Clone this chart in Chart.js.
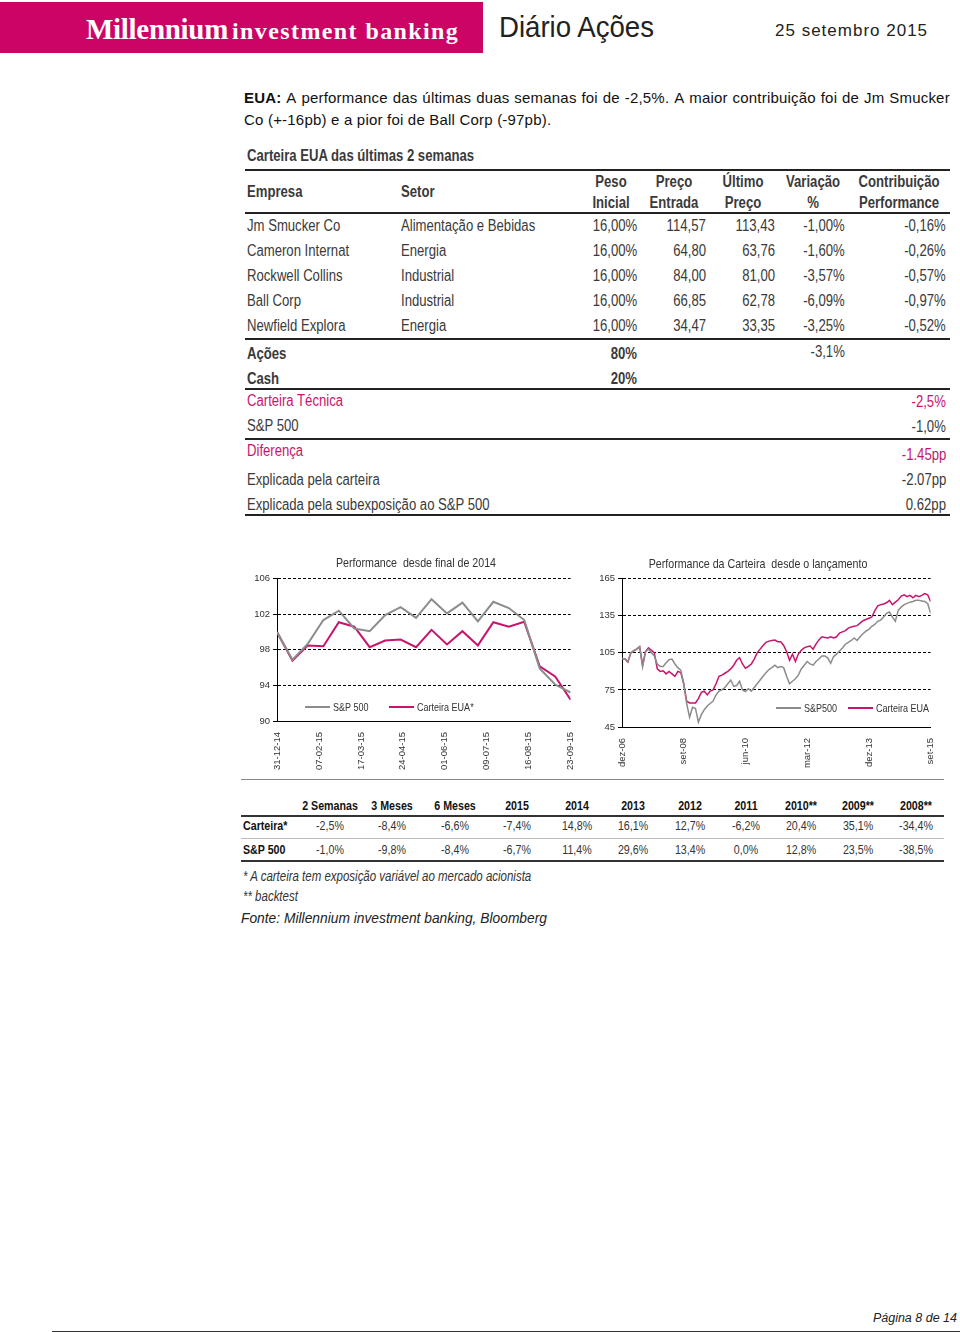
<!DOCTYPE html>
<html>
<head>
<meta charset="utf-8">
<script src="https://cdn.jsdelivr.net/npm/chart.js@4.4.1/dist/chart.umd.min.js"></script>
<style>
  body { margin: 0; background: #fff; overflow: hidden; }
  #page { position: relative; width: 960px; height: 1333px; font-family: "Liberation Sans", Arial, sans-serif; color: #222; }
  .t { position: absolute; white-space: nowrap; line-height: 18px; }
  .nar span { display: inline-block; transform: scaleX(0.82); }
  .b { font-weight: bold; color: #111; }
  .row { font-size: 16px; color: #3a3a3a; }
  .ttl { font-size: 13px; color: #333; }
  .mag { color: #c7156c; }
  .rule { position: absolute; }
  .chartbox { position: absolute; }
  .para { position: absolute; left: 244px; width: 706px; font-size: 15px; line-height: 22px; color: #111; letter-spacing: 0.2px; white-space: nowrap; }
  .legend { position: absolute; font-size: 11px; color: #333; display: flex; align-items: center; white-space: nowrap; }
  .legend i { display: inline-block; width: 25px; height: 2px; margin-right: 3px; }
  .legend span { display: inline-block; transform: scaleX(0.82); transform-origin: left; }
</style>
</head>
<body>
<div id="page">
  <div style="position:absolute;left:0;top:2px;width:483px;height:51px;background:#cc0466;"></div>
  <div class="t" style="left:86px;top:13px;line-height:32px;color:#fff;font-family:'Liberation Serif',serif;font-weight:bold;">
    <span style="font-size:29px;letter-spacing:-0.3px;">Millennium</span>
    <span style="font-size:24px;letter-spacing:1.4px;">investment banking</span>
  </div>
  <div class="t" style="left:499px;top:10px;line-height:34px;font-size:30px;color:#222;">
    <span style="display:inline-block;transform:scaleX(0.92);transform-origin:left;">Diário Ações</span>
  </div>
  <div class="t" style="left:775px;top:21px;line-height:20px;font-size:17px;letter-spacing:1px;color:#222;">25 setembro 2015</div>

  <div class="para" style="top:87px;display:flex;justify-content:space-between;">
    <b>EUA:</b><span>A</span><span>performance</span><span>das</span><span>últimas</span><span>duas</span><span>semanas</span><span>foi</span><span>de</span><span>-2,5%.</span><span>A</span><span>maior</span><span>contribuição</span><span>foi</span><span>de</span><span>Jm</span><span>Smucker</span>
  </div>
  <div class="para" style="top:109px;">Co (+-16pb) e a pior foi de Ball Corp (-97pb).</div>

  <div class="chartbox" style="left:240px;top:570px;width:345px;height:220px;"><canvas id="ytdChart" width="345" height="220"></canvas></div>
  <div class="chartbox" style="left:590px;top:570px;width:355px;height:220px;"><canvas id="launchChart" width="355" height="220"></canvas></div>
</div>

<script>
// --- table: carteira das ultimas 2 semanas ---
const companies = ['Jm Smucker Co', 'Cameron Internat', 'Rockwell Collins', 'Ball Corp', 'Newfield Explora'];
const sectors = ['Alimentação e Bebidas', 'Energia', 'Industrial', 'Industrial', 'Energia'];
const weights = ['16,00%', '16,00%', '16,00%', '16,00%', '16,00%'];
const entryPrices = ['114,57', '64,80', '84,00', '66,85', '34,47'];
const lastPrices = ['113,43', '63,76', '81,00', '62,78', '33,35'];
const priceChanges = ['-1,00%', '-1,60%', '-3,57%', '-6,09%', '-3,25%'];
const contributions = ['-0,16%', '-0,26%', '-0,57%', '-0,97%', '-0,52%'];

// --- table: performance por periodo ---
const periods = ['2 Semanas', '3 Meses', '6 Meses', '2015', '2014', '2013', '2012', '2011', '2010**', '2009**', '2008**'];
const portfolioReturns = ['-2,5%', '-8,4%', '-6,6%', '-7,4%', '14,8%', '16,1%', '12,7%', '-6,2%', '20,4%', '35,1%', '-34,4%'];
const sp500Returns = ['-1,0%', '-9,8%', '-8,4%', '-6,7%', '11,4%', '29,6%', '13,4%', '0,0%', '12,8%', '23,5%', '-38,5%'];

// --- chart 1: performance desde final de 2014 (biweekly, days since 31-12-14) ---
const ytdDays = [0, 14, 28, 42, 56, 70, 84, 98, 112, 126, 140, 154, 168, 182, 196, 210, 224, 238, 252, 266];
const ytdTickLabels = ['31-12-14', '07-02-15', '17-03-15', '24-04-15', '01-06-15', '09-07-15', '16-08-15', '23-09-15'];
const ytdSP500 = [100.0, 96.9, 98.7, 101.35, 102.4, 100.4, 100.1, 101.9, 102.8, 101.6, 103.7, 102.1, 103.3, 101.2, 103.4, 102.7, 101.35, 95.9, 94.1, 93.2];
const ytdPortfolio = [100.0, 96.8, 98.5, 98.4, 101.1, 100.6, 98.3, 99.05, 99.15, 98.3, 100.25, 98.6, 100.1, 98.5, 101.1, 100.6, 101.15, 96.15, 95.0, 92.4];

// --- chart 2: performance desde o lancamento (monthly, months since dez-06) ---
const launchTickLabels = ['dez-06', 'set-08', 'jun-10', 'mar-12', 'dez-13', 'set-15'];
const launchSP500 = [
  100.5, 100, 98, 105, 106.5, 108, 110, 93.5, 106, 108,
  105, 102.5, 96, 94, 94, 97, 99.5, 100, 96, 93,
  91, 80, 64, 53, 61, 60, 49, 55, 59, 62,
  64, 66, 71, 74, 75, 77, 80, 83, 78, 78.5,
  82, 75, 73.7, 76, 74, 77, 80, 83, 86, 89,
  91.5, 93, 95, 93, 94, 93, 86, 80, 82, 84,
  87, 92, 95, 98, 96, 95, 98, 100, 102.5, 102.5,
  101, 96.5, 102, 104, 106.5, 109, 112, 113.5, 115, 117,
  115, 118, 120.5, 122.5, 124, 126.5, 128, 130.5, 131.5, 134,
  137, 138, 134, 130.5, 139.5, 142, 144, 145, 146, 146.5,
  147.5, 147.5, 147, 146.5, 145, 137
];
const launchPortfolio = [
  100.5, 100, 97.5, 105, 106.8, 108, 110, 95, 106, 109,
  107, 105, 92, 90, 90.5, 88, 90, 88, 86, 90,
  89, 80, 66, 64.5, 64.5, 64.5, 68, 73, 74, 71,
  74, 75, 80, 86, 87, 88.5, 90, 92, 95, 99,
  101, 96, 92.5, 94, 96, 100, 105, 108, 111, 113.5,
  114.5, 115, 115.3, 114, 114, 111, 106, 99, 104, 98,
  104, 107, 109, 110, 110.5, 108, 112, 115.5, 118, 117.5,
  117, 118, 117, 118, 121, 122, 123, 125, 126, 126.5,
  127, 129, 131, 132, 133, 134, 139, 143, 144, 144.5,
  145.5, 147.5, 144, 146, 148, 151, 152, 150.5, 151.5, 149.5,
  151.5, 150.5, 151.5, 153, 152, 146.5
];
const launchMonths = launchSP500.map((v, i) => i);

const MAGENTA = '#c7156c';
const GREY = '#8c8c8c';
const page = document.getElementById('page');

function put(text, x, y, cls, align) {
  const el = document.createElement('div');
  el.className = 't ' + (cls || '');
  const span = document.createElement('span');
  span.textContent = text;
  el.appendChild(span);
  el.style.top = (y - 9) + 'px';
  if (align === 'right') {
    el.style.right = (960 - x) + 'px';
    span.style.transformOrigin = 'right';
  } else if (align === 'center') {
    el.style.left = x + 'px';
    el.style.transform = 'translateX(-50%)';
    span.style.transformOrigin = 'center';
  } else {
    el.style.left = x + 'px';
    span.style.transformOrigin = 'left';
  }
  page.appendChild(el);
  return el;
}

function hline(y, x1, x2, w, color) {
  const el = document.createElement('div');
  el.className = 'rule';
  el.style.left = x1 + 'px';
  el.style.top = (y - w / 2) + 'px';
  el.style.width = (x2 - x1) + 'px';
  el.style.height = w + 'px';
  el.style.background = color;
  page.appendChild(el);
}

// ---- table 1 ----
put('Carteira EUA das últimas 2 semanas', 247, 156, 'nar b row');
hline(170, 245, 950, 2, '#222');
put('Empresa', 247, 192, 'nar b row');
put('Setor', 401, 192, 'nar b row');
const headTop = ['Peso', 'Preço', 'Último', 'Variação', 'Contribuição'];
const headBottom = ['Inicial', 'Entrada', 'Preço', '%', 'Performance'];
const headX = [611, 674, 743, 813, 899];
headTop.forEach((h, i) => put(h, headX[i], 182, 'nar b row', 'center'));
headBottom.forEach((h, i) => put(h, headX[i], 203, 'nar b row', 'center'));
hline(213, 245, 950, 1.5, '#222');

companies.forEach((name, i) => {
  const y = 226 + i * 25;
  put(name, 247, y, 'nar row');
  put(sectors[i], 401, y, 'nar row');
  put(weights[i], 637, y, 'nar row', 'right');
  put(entryPrices[i], 706, y, 'nar row', 'right');
  put(lastPrices[i], 775, y, 'nar row', 'right');
  put(priceChanges[i], 845, y, 'nar row', 'right');
  put(contributions[i], 946, y, 'nar row', 'right');
});
hline(339, 245, 950, 2, '#222');

put('Ações', 247, 354, 'nar b row');
put('80%', 637, 354, 'nar b row', 'right');
put('-3,1%', 845, 352, 'nar row', 'right');
put('Cash', 247, 379, 'nar b row');
put('20%', 637, 379, 'nar b row', 'right');
hline(389, 245, 950, 1.5, '#222');
put('Carteira Técnica', 247, 401, 'nar row mag');
put('-2,5%', 946, 402, 'nar row mag', 'right');
put('S&P 500', 247, 426, 'nar row');
put('-1,0%', 946, 427, 'nar row', 'right');
hline(439, 245, 950, 1.5, '#222');
put('Diferença', 247, 451, 'nar row mag');
put('-1.45pp', 946, 455, 'nar row mag', 'right');
put('Explicada pela carteira', 247, 480, 'nar row');
put('-2.07pp', 946, 480, 'nar row', 'right');
put('Explicada pela subexposição ao S&P 500', 247, 505, 'nar row');
put('0.62pp', 946, 505, 'nar row', 'right');
hline(515, 245, 950, 1.5, '#222');

// ---- chart titles and legends ----
put('Performance  desde final de 2014', 416, 563, 'nar ttl', 'center').style.whiteSpace = 'pre';
put('Performance da Carteira  desde o lançamento', 758, 564, 'nar ttl', 'center').style.whiteSpace = 'pre';

function legendItem(x, y, color, label) {
  const el = document.createElement('div');
  el.className = 'legend';
  el.style.left = x + 'px';
  el.style.top = (y - 7) + 'px';
  el.innerHTML = `<i style="background:${color}"></i><span>${label}</span>`;
  page.appendChild(el);
}
legendItem(305, 708, GREY, 'S&amp;P 500');
legendItem(389, 708, MAGENTA, 'Carteira EUA*');
legendItem(776, 709, GREY, 'S&amp;P500');
legendItem(848, 709, MAGENTA, 'Carteira EUA');

// ---- table 2 ----
hline(779, 241, 944, 1, '#888');
const colX = [330, 392, 455, 517, 577, 633, 690, 746, 801, 858, 916];
const small = 'font-size:13px;';
periods.forEach((p, i) => put(p, colX[i], 806, 'nar b', 'center').style.cssText += small);
hline(816, 241, 944, 1.5, '#333');
put('Carteira*', 243, 826, 'nar b').style.cssText += small;
portfolioReturns.forEach((v, i) => put(v, colX[i], 826, 'nar', 'center').style.cssText += small + 'color:#333;');
hline(838, 241, 944, 1, '#bbb');
put('S&P 500', 243, 850, 'nar b').style.cssText += small;
sp500Returns.forEach((v, i) => put(v, colX[i], 850, 'nar', 'center').style.cssText += small + 'color:#333;');
hline(861, 241, 944, 1.5, '#333');
const noteStyle = 'font-style:italic;font-size:14px;color:#333;';
put('* A carteira tem exposição variável ao mercado acionista', 243, 876, 'nar').style.cssText += noteStyle;
put('** backtest', 243, 896, 'nar').style.cssText += noteStyle;
put('Fonte: Millennium investment banking, Bloomberg', 241, 919, '').style.cssText += 'font-style:italic;font-size:13.8px;color:#222;';
put('Página 8 de 14', 957, 1318, '', 'right').style.cssText += 'font-style:italic;font-size:12.5px;color:#222;';
hline(1331, 52, 960, 1, '#333');

// ---- charts ----
const tickFont = { family: '"Liberation Sans", Arial, sans-serif', size: 9.5 };

function perfChart(canvasId, xs, sp, port, opts) {
  new Chart(document.getElementById(canvasId), {
    type: 'line',
    data: {
      labels: xs,
      datasets: [
        { data: sp, borderColor: GREY, borderWidth: opts.lineWidth, pointRadius: 0, tension: 0 },
        { data: port, borderColor: MAGENTA, borderWidth: opts.lineWidth, pointRadius: 0, tension: 0 }
      ]
    },
    options: {
      responsive: false,
      animation: false,
      devicePixelRatio: 1,
      layout: { padding: { top: opts.padTop, right: opts.padRight, left: 0, bottom: 20 } },
      plugins: { legend: { display: false }, tooltip: { enabled: false } },
      scales: {
        x: {
          type: 'linear',
          min: 0,
          max: opts.xMax,
          afterFit: s => { s.height = opts.xHeight; },
          grid: { display: false },
          border: { display: true, color: '#000', width: 1 },
          ticks: {
            stepSize: opts.xStep,
            autoSkip: false,
            maxRotation: 90,
            minRotation: 90,
            font: tickFont,
            color: '#333',
            padding: 3,
            callback: v => opts.xLabels[Math.round(v / opts.xStep)]
          }
        },
        y: {
          min: opts.yMin,
          max: opts.yMax,
          afterFit: s => { s.width = opts.yWidth; },
          grid: { color: '#000', lineWidth: 1, tickLength: 4 },
          border: { display: true, color: '#000', width: 1, dash: [3, 2] },
          ticks: { stepSize: opts.yStep, font: tickFont, color: '#333', padding: 3 }
        }
      }
    }
  });
}

perfChart('ytdChart', ytdDays, ytdSP500, ytdPortfolio, {
  lineWidth: 2, xMax: 266, xStep: 38, xLabels: ytdTickLabels, xHeight: 49,
  yMin: 90, yMax: 106, yStep: 4, yWidth: 37, padTop: 6, padRight: 5
});
perfChart('launchChart', launchMonths, launchSP500, launchPortfolio, {
  lineWidth: 1.5, xMax: 105, xStep: 21, xLabels: launchTickLabels, xHeight: 43,
  yMin: 45, yMax: 165, yStep: 30, yWidth: 32, padTop: 7, padRight: 10
});
</script>
</body>
</html>
